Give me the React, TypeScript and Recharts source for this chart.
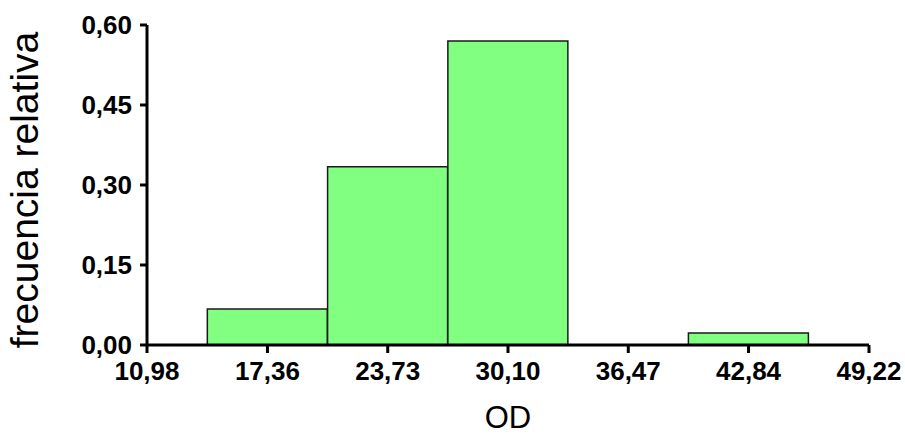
import { BarChart, Bar, XAxis, YAxis, Label } from "recharts";

const binCenters = [17.36, 23.73, 30.1, 36.47, 42.84];
const relFreq = [0.0675, 0.334, 0.57, 0, 0.0225];
const xTicks = [10.98, 17.36, 23.73, 30.1, 36.47, 42.84, 49.22];
const yTicks = [0, 0.15, 0.3, 0.45, 0.6];

const data = binCenters.map((x, i) => ({ x, y: relFreq[i] }));

const fmt = (v: number) => v.toFixed(2).replace(".", ",");
const FONT = '"Liberation Sans", Arial, sans-serif';

export default function App() {
  return (
    <div style={{ position: "absolute", left: 0, top: 0, background: "#fff" }}>
      <BarChart
        width={905}
        height={434}
        data={data}
        margin={{ top: 25, right: 36, left: 0, bottom: 0 }}
      >
        <XAxis
          type="number"
          dataKey="x"
          domain={[10.98, 49.22]}
          ticks={xTicks}
          allowDataOverflow
          height={89}
          tickFormatter={fmt}
          tickSize={8}
          tickMargin={9}
          axisLine={{ stroke: "#000", strokeWidth: 3 }}
          tickLine={{ stroke: "#000", strokeWidth: 3 }}
          tick={{ fill: "#000", fontSize: 26, fontWeight: "bold", fontFamily: FONT }}
        >
          <Label
            content={({ viewBox }: any) => (
              <text
                x={viewBox.x + viewBox.width / 2}
                y={428}
                textAnchor="middle"
                fontSize={31}
                fontFamily={FONT}
                fill="#000"
              >
                OD
              </text>
            )}
          />
        </XAxis>
        <YAxis
          domain={[0, 0.6]}
          ticks={yTicks}
          width={147}
          tickFormatter={fmt}
          tickSize={7}
          tickMargin={8}
          axisLine={{ stroke: "#000", strokeWidth: 3 }}
          tickLine={{ stroke: "#000", strokeWidth: 3 }}
          tick={{ fill: "#000", fontSize: 26, fontWeight: "bold", fontFamily: FONT }}
        >
          <Label
            content={({ viewBox }: any) => (
              <text
                transform={`translate(38, ${viewBox.y + viewBox.height / 2 + 5}) rotate(-90)`}
                textAnchor="middle"
                fontSize={39}
                fontFamily={FONT}
                fill="#000"
              >
                frecuencia relativa
              </text>
            )}
          />
        </YAxis>
        <Bar
          dataKey="y"
          barSize={120}
          fill="#80FF80"
          stroke="#1a1a1a"
          strokeWidth={1.5}
          isAnimationActive={false}
        />
      </BarChart>
    </div>
  );
}
